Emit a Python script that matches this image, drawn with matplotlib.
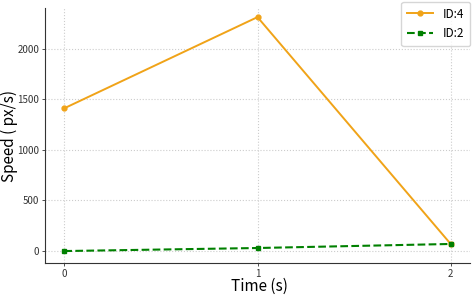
import matplotlib
matplotlib.use("Agg")
import matplotlib.pyplot as plt

plt.rcParams['font.family'] = ['Noto Sans CJK SC', 'DejaVu Sans']

times = [0, 1, 2]
id4_speed = [1410, 2310, 70]
id2_speed = [0, 30, 70]
xticks = [0, 1, 2]
yticks = [0, 500, 1000, 1500, 2000]

fig = plt.figure(figsize=(4.75, 2.95), dpi=100)
ax = fig.add_axes([45/475, 1-263/295, (470-45)/475, (263-8)/295])

ax.plot(times, id4_speed, color='#f0a318', marker='o', markersize=3.5, linewidth=1.4, label='ID:4')
ax.plot(times, id2_speed, color='green', marker='s', markersize=3.5, linewidth=1.5, linestyle='--', label='ID:2')

ax.set_xlim(-0.1, 2.1)
ax.set_ylim(-118, 2400)
ax.set_xticks(xticks)
ax.set_yticks(yticks)
ax.tick_params(axis='both', labelsize=7, length=2, width=0.6, pad=2, colors='#333333')
ax.grid(True, linestyle=':', color='#cccccc', linewidth=0.8)
for s in ['top', 'right']:
    ax.spines[s].set_visible(False)
for s in ['left', 'bottom']:
    ax.spines[s].set_color('#333333')

ax.set_xlabel('Time (s)', fontsize=11)
ax.set_ylabel('Speed ( px/s)', fontsize=11)
ax.xaxis.set_label_coords((259-45)/425, -(286-263)/255)
ax.yaxis.set_label_coords(-(45-9)/425, (263-136)/255)
ax.xaxis.label.set_va('center')
ax.yaxis.label.set_va('center')

ax.legend(loc='upper right', fontsize=8.5, frameon=True, handlelength=2.2,
          borderaxespad=0.0, bbox_to_anchor=(1.0, 1.025), borderpad=0.5,
          labelspacing=0.55, handletextpad=0.8)

fig.savefig('out.png', dpi=100)
